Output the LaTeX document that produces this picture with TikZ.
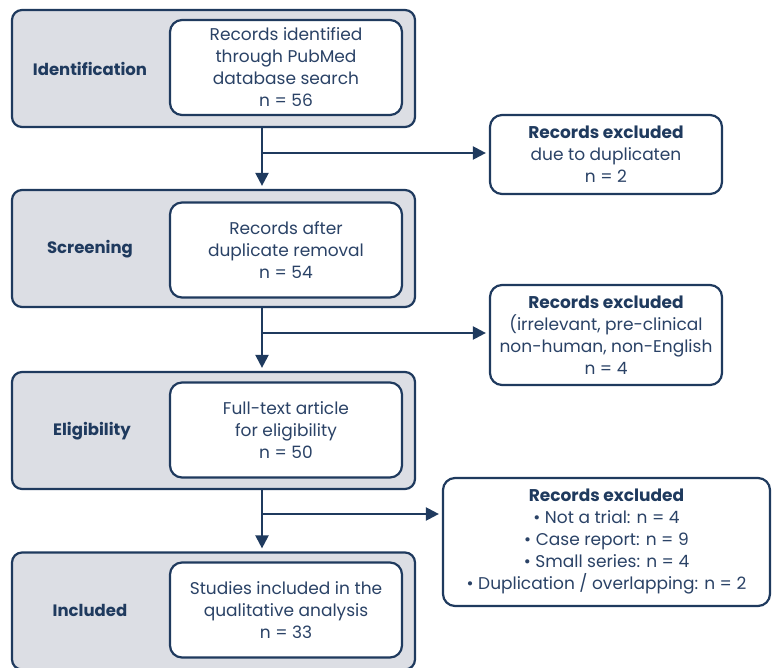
\documentclass[tikz,border=0pt]{standalone}
\usepackage{fontspec}
\setmainfont{Poppins}
\usetikzlibrary{arrows.meta}
\definecolor{navy}{RGB}{31,58,94}
\definecolor{inktext}{RGB}{42,66,102}
\definecolor{stagegray}{RGB}{220,222,228}
\begin{document}
\begin{tikzpicture}[x=1pt,y=-1pt,shorten >=3pt,font=\fontsize{17}{22}\selectfont]
        \tikzstyle{stage}=[draw=navy,line width=2.2pt,fill=stagegray,rounded corners=10pt,minimum width=403pt,minimum height=117pt]
        \tikzstyle{stagelab}=[text=navy,font=\fontsize{16.5}{22}\selectfont\bfseries]
        \tikzstyle{record}=[draw=navy,line width=2.2pt,fill=white,rounded corners=12pt,text=inktext,align=center,minimum width=232pt,minimum height=95pt,inner sep=2pt]
        \tikzstyle{excluded}=[draw=navy,line width=2.2pt,fill=white,rounded corners=12pt,text=inktext,align=center,minimum width=232pt,inner sep=2pt]
        \tikzstyle{flow}=[draw=navy,line width=2.2pt,-{Triangle[length=13pt,width=13pt]}]
       \useasboundingbox (0,0) rectangle (782,668);
       \begin{scope}
         % stages
         \node [stage] (ident) at (213.5,68.5) {};
         \node [stage] (screen) at (213.5,248.5) {};
         \node [stage] (elig) at (213.5,430.5) {};
         \node [stage] (incl) at (213.5,611) {};
         \node [stagelab] (identlab) at (90,68.5) {Identification};
         \node [stagelab] (screenlab) at (90,249) {Screening};
         \node [stagelab] (eliglab) at (92,431) {Eligibility};
         \node [stagelab] (incllab) at (90,610) {Included};
         % records
         \node [record] (identrec) at (286,67.5) {Records identified\\through PubMed\\database search\\n = 56};
         \node [record] (screenrec) at (286,250) {Records after\\duplicate removal\\n = 54};
         \node [record] (eligrec) at (286,430) {Full-text article\\for eligibility\\n = 50};
         \node [record] (inclrec) at (286,610) {Studies included in the\\qualitative analysis\\n = 33};
         % exclusions
         \node [excluded,minimum height=79pt] (excla) at (606,154.5) {\textbf{\color{navy}Records excluded}\\due to duplicaten\\n = 2};
         \node [excluded,minimum height=100pt] (exclb) at (606,335) {\textbf{\color{navy}Records excluded}\\(irrelevant, pre-clinical\\non-human, non-English\\n = 4};
         \node [excluded,minimum width=327pt,minimum height=128pt] (exclc) at (606.5,542) {\textbf{\color{navy}Records excluded}\\\textbullet{} Not a trial: n = 4\\\textbullet{} Case report: n = 9\\\textbullet{} Small series: n = 4\\\textbullet{} Duplication / overlapping: n = 2};
         % connectors
         \coordinate (trunk) at (262,0);
         \coordinate (brancha) at (262,153);
         \coordinate (branchb) at (262,333);
         \coordinate (branchc) at (262,514);
         \path[flow] (ident.south -| trunk) -- (screen.north -| trunk);
         \path[flow] (screen.south -| trunk) -- (elig.north -| trunk);
         \path[flow] (elig.south -| trunk) -- (incl.north -| trunk);
         \path[flow] (brancha) -- (excla.west |- brancha);
         \path[flow] (branchb) -- (exclb.west |- branchb);
         \path[flow] (branchc) -- (exclc.west |- branchc);
        \end{scope}
      \end{tikzpicture}
\end{document}
